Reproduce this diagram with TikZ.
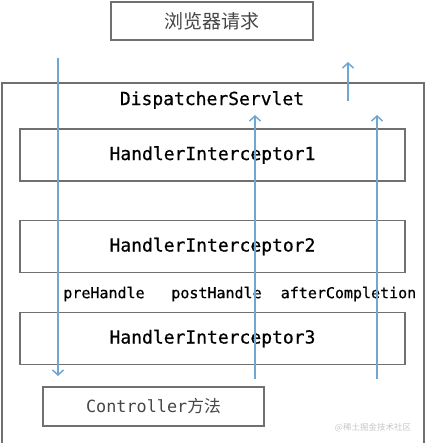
\documentclass[tikz,border=0pt]{standalone}
\usepackage{fontspec}
\setmonofont[FakeBold=0.6]{DejaVu Sans Mono}
\newfontfamily\plainmono{DejaVu Sans Mono}
\newfontfamily\cjk{Noto Sans CJK SC}
\usetikzlibrary{arrows.meta}
\definecolor{flow}{RGB}{112,166,210}
\definecolor{frame}{RGB}{112,112,112}
\definecolor{soft}{RGB}{70,70,70}
\tikzset{
  box/.style={draw=frame, line width=1.3pt, rectangle, inner sep=0pt, anchor=center},
  hibox/.style={box, minimum width=385pt, minimum height=52pt, font=\ttfamily\fontsize{18}{20}\selectfont},
  lbl/.style={font=\ttfamily\fontsize{15}{17}\selectfont, inner sep=0pt},
  flowline/.style={draw=flow, line width=1.5pt, -{Straight Barb[length=5pt,width=11pt,line width=1.5pt]}}
}
\begin{document}
\begin{tikzpicture}[x=1pt,y=-1pt]
\useasboundingbox (0,0) rectangle (425,443);
\begin{scope}
\clip (0,0) rectangle (425,443);
\draw[frame, line width=1.5pt] (2,460) -- (2,83) -- (424,83) -- (424,460);
\end{scope}
\node[box, minimum width=202pt, minimum height=38pt, text=soft, font=\cjk\fontsize{19}{21}\selectfont] (browser) at (212,21) {浏览器请求};
\node[font=\ttfamily\fontsize{18}{20}\selectfont, inner sep=0pt] (ds) at (212,100) {DispatcherServlet};
\node[hibox] (hi1) at (212.5,155) {HandlerInterceptor1};
\node[hibox] (hi2) at (212.5,246.5) {HandlerInterceptor2};
\node[hibox] (hi3) at (212.5,338.5) {HandlerInterceptor3};
\node[box, minimum width=221pt, minimum height=39pt, text=soft, font=\plainmono\fontsize{16.8}{19}\selectfont] (ctrl) at (153.5,406.5) {Controller{\cjk 方法}};
\node[lbl] (pre) at (104,294) {preHandle};
\node[lbl] (post) at (216.5,294) {postHandle};
\node[lbl] (after) at (348.5,294) {afterCompletion};
\node[font=\cjk\fontsize{8.5}{10}\selectfont, text=black!22, inner sep=0pt] (wm) at (373,428) {@稀土掘金技术社区};
\coordinate (preS) at (58,58);
\coordinate (preE) at (58,376);
\coordinate (postS) at (255,379);
\coordinate (postE) at (255,115);
\coordinate (aftS) at (377,379);
\coordinate (aftE) at (377,115);
\coordinate (outS) at (348,101);
\coordinate (outE) at (348,62);
\draw[flowline] (preS) -- (preE);
\draw[flowline] (postS) -- (postE);
\draw[flowline] (aftS) -- (aftE);
\draw[flowline] (outS) -- (outE);
\end{tikzpicture}
\end{document}
